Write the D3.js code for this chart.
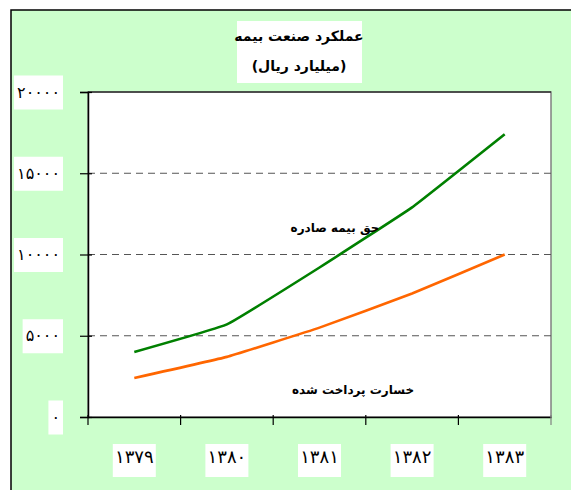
<!DOCTYPE html>
<html><head><meta charset="utf-8">
<script src="https://cdn.jsdelivr.net/npm/d3@7"></script>
<style>
html,body{margin:0;padding:0;background:#fff;}
svg{display:block;}
text{font-family:"DejaVu Sans",sans-serif;fill:#000;}
</style></head>
<body>
<svg id="c" width="571" height="490"></svg>
<script>
const years = ["۱۳۷۹","۱۳۸۰","۱۳۸۱","۱۳۸۲","۱۳۸۳"];
const premiums = [4000, 5700, 9200, 12900, 17400];   // حق بیمه صادره
const claims   = [2400, 3700, 5500, 7600, 10000];    // خسارت پرداخت شده
const yTicks = [0, 5000, 10000, 15000, 20000];
const yTickLabels = ["۰","۵۰۰۰","۱۰۰۰۰","۱۵۰۰۰","۲۰۰۰۰"];
const titleLines = ["عملکرد صنعت بیمه","(میلیارد ریال)"];
const seriesNames = ["حق بیمه صادره","خسارت پرداخت شده"];

const svg = d3.select("#c");
svg.append("rect").attr("x",11).attr("y",10).attr("width",600).attr("height",520)
  .attr("fill","#ccffcc").attr("stroke","#000").attr("stroke-width",1.5);

const L=88, R=551, T=92, B=417;
const x = d3.scaleBand().domain(years).range([L,R]);
const y = d3.scaleLinear().domain([0,20000]).range([B,T]);

svg.append("rect").attr("x",L).attr("y",T).attr("width",R-L).attr("height",B-T)
  .attr("fill","#fff").attr("stroke","#808080").attr("stroke-width",1.5);

svg.append("g").selectAll("line").data(yTicks.filter(d=>d>0&&d<20000)).join("line")
  .attr("x1",L).attr("x2",R).attr("y1",d=>y(d)).attr("y2",d=>y(d))
  .attr("stroke","#555").attr("stroke-width",1).attr("stroke-dasharray","7,5");

svg.append("line").attr("x1",L).attr("x2",R).attr("y1",T).attr("y2",T).attr("stroke","#000").attr("stroke-width",1.2);

const yAxis = svg.append("g").attr("transform",`translate(${L},0)`)
  .call(d3.axisLeft(y).tickValues(yTicks).tickSize(8).tickPadding(20)
    .tickFormat((d,i)=>yTickLabels[i]));
yAxis.select(".domain").attr("stroke","#000").attr("stroke-width",1.5);
yAxis.selectAll(".tick line").attr("x1",4).attr("x2",-8).attr("stroke","#000").attr("stroke-width",1.2);
yAxis.selectAll(".tick text").attr("font-size",16).attr("font-family","DejaVu Sans");
yAxis.selectAll(".tick").each(function(){
  const g=d3.select(this), t=g.select("text"), bb=t.node().getBBox();
  g.insert("rect","text").attr("x",bb.x-3).attr("y",-17).attr("width",bb.width+6).attr("height",34).attr("fill","#fff");
});

const xAxis = svg.append("g").attr("transform",`translate(0,${B})`)
  .call(d3.axisBottom(x).tickSize(0).tickPadding(44));
xAxis.select(".domain").attr("stroke","#000").attr("stroke-width",1.5);
xAxis.selectAll(".tick text").attr("font-size",18).attr("font-family","DejaVu Sans").attr("dy","0.1em");
xAxis.selectAll(".tick").each(function(){
  const g=d3.select(this);
  g.insert("rect","text").attr("x",-21.5).attr("y",27).attr("width",43).attr("height",33).attr("fill","#fff");
});
const bounds = years.map(d=>x(d)).concat([x(years[years.length-1])+x.bandwidth()]);
xAxis.append("g").selectAll("line").data(bounds).join("line")
  .attr("x1",d=>d).attr("x2",d=>d).attr("y1",-2).attr("y2",8)
  .attr("stroke",(d,i)=>i===bounds.length-1?"#808080":"#000").attr("stroke-width",1.2);

const line = d3.line().x((d,i)=>x(years[i])+x.bandwidth()/2).y(d=>y(d)).curve(d3.curveCardinal.tension(0.75));
svg.append("path").datum(claims).attr("d",line).attr("fill","none").attr("stroke","#ff6600").attr("stroke-width",2.6);
svg.append("path").datum(premiums).attr("d",line).attr("fill","none").attr("stroke","#008000").attr("stroke-width",2.6);

svg.append("text").attr("x",335).attr("y",232).attr("text-anchor","middle").attr("direction","rtl")
  .attr("font-size",12).attr("font-weight","bold").text(seriesNames[0]);
svg.append("text").attr("x",353).attr("y",394).attr("text-anchor","middle").attr("direction","rtl")
  .attr("font-size",12).attr("font-weight","bold").text(seriesNames[1]);

svg.append("rect").attr("x",237).attr("y",21).attr("width",125).attr("height",62).attr("fill","#fff");
svg.append("text").attr("x",299).attr("y",41).attr("text-anchor","middle").attr("direction","rtl")
  .attr("font-size",14).attr("font-weight","bold").text(titleLines[0]);
svg.append("text").attr("x",299).attr("y",71).attr("text-anchor","middle").attr("direction","rtl")
  .attr("font-size",14).attr("font-weight","bold").text(titleLines[1]);
</script>
</body></html>
